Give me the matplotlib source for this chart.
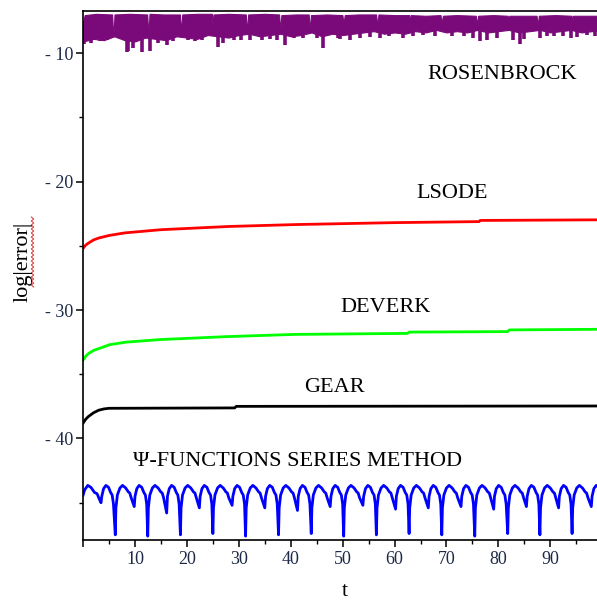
import numpy as np
import matplotlib.pyplot as plt
from matplotlib.ticker import MultipleLocator, FuncFormatter

# ---- data ----
# LSODE (red)
lsode_t = [0, 0.5, 1, 2, 3, 5, 8, 15, 28, 41, 60, 76.3, 76.5, 100]
lsode_y = [-25.2, -24.95, -24.8, -24.55, -24.4, -24.2, -24.0, -23.75, -23.5, -23.35, -23.2, -23.12, -23.03, -22.98]

# DEVERK (green)
deverk_t = [0, 0.5, 1, 2, 3.2, 5.1, 8.3, 14.9, 27.8, 40.7, 62.5, 62.8, 81.8, 82.1, 100]
deverk_y = [-33.9, -33.6, -33.4, -33.15, -32.98, -32.7, -32.5, -32.3, -32.07, -31.9, -31.82, -31.72, -31.68, -31.55, -31.5]

# GEAR (black)
gear_t = [0, 0.5, 1, 2, 3, 4, 5, 29.2, 29.5, 100]
gear_y = [-38.8, -38.5, -38.3, -38.0, -37.8, -37.7, -37.65, -37.62, -37.5, -37.47]

# ROSENBROCK (purple) - upper edge, lower edge of the noisy band and downward spikes
rb_top_t = [0, 0.3, 2.5, 5.6, 5.75, 5.9, 6.05, 9.0, 12.35, 12.5, 12.65, 12.8, 15.5,
            18.65, 18.8, 18.95, 19.1, 22.0, 24.8, 24.9, 25.0, 25.1, 28.0,
            31.35, 31.5, 31.65, 31.8, 35.0, 37.75, 37.9, 38.05, 38.2, 41.0,
            43.45, 43.6, 43.75, 43.9, 47.0, 49.95, 50.1, 50.25, 50.4, 53.0,
            56.45, 56.6, 56.75, 56.9, 60.0, 62.8, 62.9, 63.0, 63.1, 66.0,
            68.85, 69.0, 69.15, 69.3, 72.0, 75.65, 75.8, 75.95, 76.1, 79.0,
            81.8, 81.9, 82.0, 82.1, 85.0, 87.35, 87.5, 87.65, 87.8, 91.0,
            94.1, 94.2, 94.3, 94.4, 97.0, 100]
rb_top_y = [-7.6, -7.05, -6.95, -7.0, -8.3, -8.3, -7.0, -6.95, -7.0, -8.05, -8.05, -6.95, -7.0,
            -7.0, -7.9, -7.9, -7.0, -6.95, -6.95, -7.65, -7.65, -7.0, -6.95,
            -7.0, -7.9, -7.9, -7.0, -6.95, -7.0, -7.8, -7.8, -7.05, -7.0,
            -7.0, -7.8, -7.8, -7.05, -7.0, -7.05, -7.5, -7.5, -7.05, -7.0,
            -7.0, -7.6, -7.6, -7.0, -7.05, -7.05, -7.45, -7.45, -7.05, -7.1,
            -7.05, -7.5, -7.5, -7.1, -7.05, -7.1, -7.55, -7.55, -7.1, -7.05,
            -7.1, -7.4, -7.4, -7.1, -7.1, -7.1, -7.6, -7.6, -7.1, -7.05,
            -7.1, -7.4, -7.4, -7.1, -7.1, -7.1]
rb_bot_t = list(range(0, 101, 2))
rb_bot_y = [-9.1, -8.9, -9.0, -8.7, -9.0, -9.1, -8.8, -8.9, -9.0, -8.7, -8.8, -8.9, -8.6,
            -8.7, -8.8, -8.6, -8.5, -8.7, -8.6, -8.5, -8.7, -8.6, -8.4, -8.7, -8.5, -8.6,
            -8.5, -8.4, -8.3, -8.5, -8.4, -8.5, -8.3, -8.4, -8.2, -8.4, -8.3, -8.4, -8.2,
            -8.4, -8.3, -8.2, -8.4, -8.3, -8.2, -8.4, -8.3, -8.2, -8.4, -8.3, -8.3]
rb_spike_t = [0.1, 1.6, 3.3, 4.6, 8.4, 8.7, 9.7, 11.3, 12.9, 14.5, 16.1, 17.4, 20.2, 21.6, 22.9,
              25.9, 27.0, 29.0, 30.4, 32.2, 34.5, 36.1, 37.3, 38.9, 40.6, 42.4, 45.0, 46.3, 49.1,
              49.5, 51.4, 53.4, 55.2, 57.2, 59.0, 61.7, 63.6, 65.5, 67.8, 71.0, 73.4, 75.1, 76.5,
              77.8, 79.7, 82.9, 84.2, 85.0, 88.0, 89.3, 90.8, 92.5, 94.0, 95.1, 97.0, 98.6]
rb_spike_y = [-9.3, -9.2, -9.1, -9.0, -9.9, -9.85, -9.6, -9.9, -9.85, -9.2, -9.35, -9.1, -9.0, -9.1, -8.95,
              -9.5, -9.2, -9.0, -8.95, -9.0, -8.95, -8.9, -8.95, -9.4, -8.8, -8.8, -8.85, -9.6, -8.8,
              -8.9, -8.95, -8.85, -8.75, -8.8, -8.7, -8.85, -8.7, -8.6, -8.7, -8.65, -8.7, -8.8, -9.1,
              -9.0, -8.85, -9.0, -9.3, -8.9, -8.8, -8.7, -8.65, -8.7, -8.8, -8.75, -8.6, -8.65]

# Psi-functions series method (blue): dips and hump shapes
psi_deep_t = [6.2, 12.45, 18.75, 25.0, 31.3, 37.65, 43.95, 50.2, 56.5, 62.8, 69.1, 75.45, 81.8, 88.0, 94.2]
psi_deep_y = [-47.5, -47.6, -47.5, -47.4, -47.6, -47.5, -47.4, -47.6, -47.5, -47.4, -47.5, -47.6, -47.4, -47.5, -47.4]
psi_shal_t = [3.45, 9.85, 16.1, 22.4, 28.7, 35.0, 41.3, 47.6, 53.9, 60.2, 66.5, 72.8, 79.1, 85.4, 91.6, 97.9]
psi_shal_y = [-45.0, -45.3, -45.8, -45.4, -45.2, -45.4, -45.6, -45.3, -45.2, -45.5, -45.4, -45.3, -45.5, -45.3, -45.4, -45.3]
# hump after a deep dip (offset, value) and after a shallow dip
hump_long_dt = [0.12, 0.4, 0.9, 1.4, 2.0, 2.5, 2.8, 3.05]
hump_long_y = [-45.4, -44.4, -43.85, -43.65, -43.85, -44.15, -44.25, -44.6]
hump_short_dt = [0.15, 0.5, 0.95, 1.45, 1.85, 2.15, 2.4]
hump_short_y = [-44.5, -43.9, -43.65, -43.8, -44.2, -44.4, -45.1]
psi_start = [(0.0, -44.4), (0.3, -44.0), (0.9, -43.65), (1.5, -43.8), (2.2, -44.2), (2.7, -44.3), (3.1, -44.7)]


def build_psi():
    pts = list(psi_start)
    dips = sorted([(t, y, 's') for t, y in zip(psi_shal_t, psi_shal_y)] +
                  [(t, y, 'd') for t, y in zip(psi_deep_t, psi_deep_y)])
    for t0, y0, kind in dips:
        pts.append((t0, y0))
        if kind == 'd':
            hump = zip(hump_long_dt, hump_long_y)
        else:
            hump = zip(hump_short_dt, hump_short_y)
        for dt, yy in hump:
            if t0 + dt <= 100:
                pts.append((t0 + dt, yy))
    pts = np.array(pts)
    return pts[:, 0], pts[:, 1]


plt.rcParams['font.family'] = ['Liberation Serif', 'DejaVu Serif']

fig = plt.figure(figsize=(5.97, 6.03), dpi=100)
ax = fig.add_axes([83.1 / 597, 1 - 540 / 603, 1 - 83.1 / 597, (540 - 11) / 603])

purple = '#7a0a7a'
# purple band
rb_grid = np.union1d(rb_top_t, rb_bot_t)
ax.fill_between(rb_grid, np.interp(rb_grid, rb_top_t, rb_top_y), np.interp(rb_grid, rb_bot_t, rb_bot_y),
                color=purple, lw=0.8, edgecolor=purple)
ax.vlines(rb_spike_t, np.interp(rb_spike_t, rb_bot_t, rb_bot_y), rb_spike_y, color=purple, lw=2.6)

ax.plot(lsode_t, lsode_y, color='#ff0000', lw=2.0)
ax.plot(deverk_t, deverk_y, color='#00ff00', lw=2.0)
ax.plot(gear_t, gear_y, color='black', lw=2.0)
pt, py = build_psi()
ax.plot(pt, py, color='#0000ff', lw=2.0)

ax.set_xlim(0, 99.0)
ax.set_ylim(-47.9, -6.73)

for s in ['left', 'bottom', 'top']:
    ax.spines[s].set_linewidth(1.2)
ax.spines['right'].set_visible(False)

ax.xaxis.set_major_locator(MultipleLocator(10))
ax.xaxis.set_minor_locator(MultipleLocator(5))
ax.yaxis.set_major_locator(MultipleLocator(10))
ax.yaxis.set_minor_locator(MultipleLocator(5))
ax.tick_params(which='major', direction='out', length=5, width=1.1, labelsize=13,
               labelcolor='#1c2a48', pad=2)
ax.tick_params(which='minor', direction='out', length=3, width=1.0)
ax.tick_params(axis='x', pad=3)
ax.xaxis.set_major_formatter(FuncFormatter(lambda v, p: '' if v <= 0 else '%d' % v))
ax.yaxis.set_major_formatter(FuncFormatter(lambda v, p: '- %d' % abs(v) if v < 0 else '%d' % v))

lab = dict(fontsize=16, color='black', ha='center', va='center')
ax.text(80.7, -11.7, 'ROSENBROCK', **lab)
ax.text(71.0, -20.9, 'LSODE', **lab)
ax.text(58.3, -29.8, 'DEVERK', **lab)
ax.text(48.4, -36.0, 'GEAR', **lab)
ax.text(41.3, -41.8, 'Ψ-FUNCTIONS SERIES METHOD', **lab)

fig.text(23 / 597, 1 - 262 / 603, 'log|error|', rotation=90, fontsize=16, ha='center', va='center')
fig.text(345 / 597, 1 - 592 / 603, 't', fontsize=16, ha='center', va='center')

# spell-check squiggle beside "error" in the y label
sq_y = 1 - np.linspace(217, 287, 36) / 603
sq_x = (32.5 + np.tile([-1.2, 1.2], 18)) / 597
fig.add_artist(plt.Line2D(sq_x, sq_y, color='#e03030', lw=0.7))

fig.savefig('out.png', dpi=100)
